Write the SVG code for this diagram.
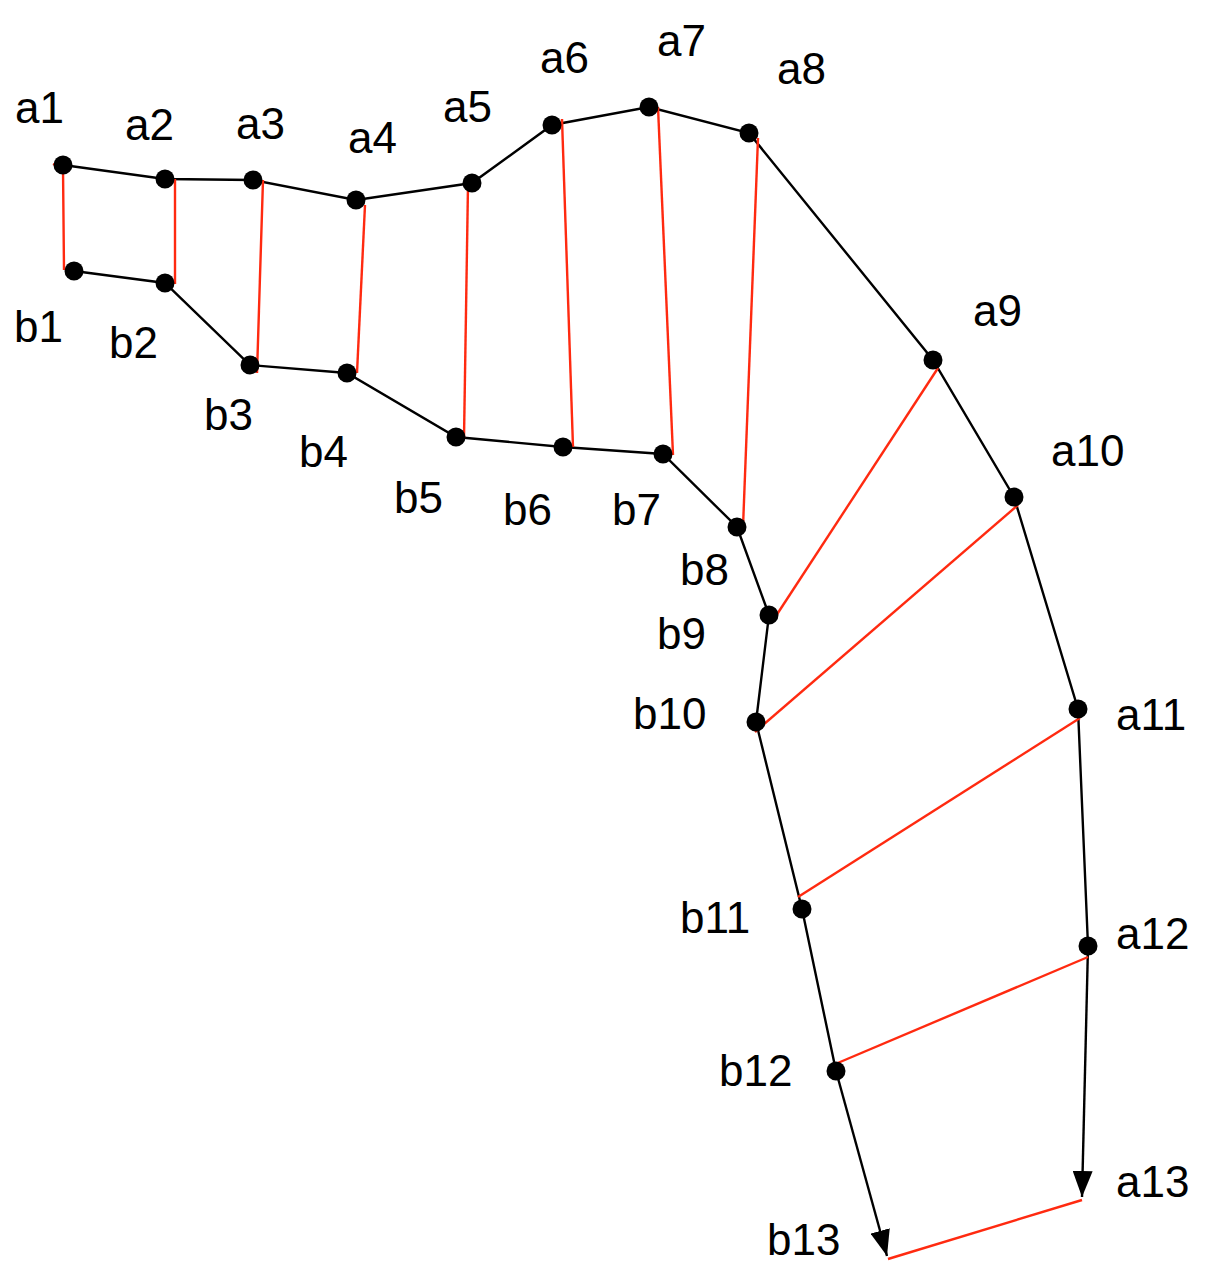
<svg xmlns="http://www.w3.org/2000/svg" width="1211" height="1280" viewBox="0 0 1211 1280">
<style>
.dot{fill:#000}
.lbl{font-family:"Liberation Sans",Arial,sans-serif;font-size:44px;fill:#000}
.blk{stroke:#000;stroke-width:2.4;fill:none}
.red{stroke:#ff2a10;stroke-width:2.4;fill:none}
</style>
<defs>
<marker id="arr" markerUnits="userSpaceOnUse" viewBox="0 0 26 20" refX="26" refY="10" markerWidth="26" markerHeight="20" orient="auto">
<path d="M0,0 L26,10 L0,20 z" fill="#000"/>
</marker>
</defs>
<rect width="1211" height="1280" fill="#fff"/>
<g id="connectors">
<polyline class="blk" points="63,165 165,179 253,180 356,200 472,183 552,125 649,107 749,133 933,360 1014,497 1078,709 1088,946"/>
<line class="blk" x1="1088" y1="946" x2="1082" y2="1197" marker-end="url(#arr)"/>
<polyline class="blk" points="74,271 165,283 250,365 347,373 456,437 563,447 663,454 737,527 769,615 756,722 802,909 836,1071"/>
<line class="blk" x1="836" y1="1071" x2="887" y2="1256" marker-end="url(#arr)"/>
<polyline class="red" points="53,164 63,168 64,270"/>
<line class="red" x1="175" y1="179" x2="175" y2="284"/>
<line class="red" x1="263" y1="180" x2="257" y2="373"/>
<line class="red" x1="365" y1="205" x2="357" y2="373"/>
<line class="red" x1="468" y1="185" x2="464" y2="438"/>
<line class="red" x1="562" y1="119" x2="573" y2="447"/>
<line class="red" x1="658" y1="107" x2="673" y2="455"/>
<line class="red" x1="758" y1="138" x2="743" y2="527"/>
<line class="red" x1="938" y1="368" x2="772" y2="622"/>
<line class="red" x1="1018" y1="505" x2="755" y2="732"/>
<line class="red" x1="1080" y1="718" x2="798" y2="897"/>
<line class="red" x1="1088" y1="957" x2="833" y2="1065"/>
<line class="red" x1="1082" y1="1200" x2="888" y2="1259"/>
</g>
<g id="a1"><circle class="dot" cx="63" cy="165" r="9.5"/><text class="lbl" x="15" y="123">a1</text></g>
<g id="a2"><circle class="dot" cx="165" cy="179" r="9.5"/><text class="lbl" x="125" y="140">a2</text></g>
<g id="a3"><circle class="dot" cx="253" cy="180" r="9.5"/><text class="lbl" x="236" y="139">a3</text></g>
<g id="a4"><circle class="dot" cx="356" cy="200" r="9.5"/><text class="lbl" x="348" y="153">a4</text></g>
<g id="a5"><circle class="dot" cx="472" cy="183" r="9.5"/><text class="lbl" x="443" y="122">a5</text></g>
<g id="a6"><circle class="dot" cx="552" cy="125" r="9.5"/><text class="lbl" x="540" y="73">a6</text></g>
<g id="a7"><circle class="dot" cx="649" cy="107" r="9.5"/><text class="lbl" x="657" y="56">a7</text></g>
<g id="a8"><circle class="dot" cx="749" cy="133" r="9.5"/><text class="lbl" x="777" y="84">a8</text></g>
<g id="a9"><circle class="dot" cx="933" cy="360" r="9.5"/><text class="lbl" x="973" y="326">a9</text></g>
<g id="a10"><circle class="dot" cx="1014" cy="497" r="9.5"/><text class="lbl" x="1051" y="466">a10</text></g>
<g id="a11"><circle class="dot" cx="1078" cy="709" r="9.5"/><text class="lbl" x="1116" y="730">a11</text></g>
<g id="a12"><circle class="dot" cx="1088" cy="946" r="9.5"/><text class="lbl" x="1116" y="949">a12</text></g>
<g id="a13"><text class="lbl" x="1116" y="1197">a13</text></g>
<g id="b1"><circle class="dot" cx="74" cy="271" r="9.5"/><text class="lbl" x="14" y="342">b1</text></g>
<g id="b2"><circle class="dot" cx="165" cy="283" r="9.5"/><text class="lbl" x="109" y="358">b2</text></g>
<g id="b3"><circle class="dot" cx="250" cy="365" r="9.5"/><text class="lbl" x="204" y="430">b3</text></g>
<g id="b4"><circle class="dot" cx="347" cy="373" r="9.5"/><text class="lbl" x="299" y="467">b4</text></g>
<g id="b5"><circle class="dot" cx="456" cy="437" r="9.5"/><text class="lbl" x="394" y="513">b5</text></g>
<g id="b6"><circle class="dot" cx="563" cy="447" r="9.5"/><text class="lbl" x="503" y="525">b6</text></g>
<g id="b7"><circle class="dot" cx="663" cy="454" r="9.5"/><text class="lbl" x="612" y="525">b7</text></g>
<g id="b8"><circle class="dot" cx="737" cy="527" r="9.5"/><text class="lbl" x="680" y="585">b8</text></g>
<g id="b9"><circle class="dot" cx="769" cy="615" r="9.5"/><text class="lbl" x="657" y="649">b9</text></g>
<g id="b10"><circle class="dot" cx="756" cy="722" r="9.5"/><text class="lbl" x="633" y="729">b10</text></g>
<g id="b11"><circle class="dot" cx="802" cy="909" r="9.5"/><text class="lbl" x="680" y="933">b11</text></g>
<g id="b12"><circle class="dot" cx="836" cy="1071" r="9.5"/><text class="lbl" x="719" y="1086">b12</text></g>
<g id="b13"><text class="lbl" x="767" y="1255">b13</text></g>
</svg>
